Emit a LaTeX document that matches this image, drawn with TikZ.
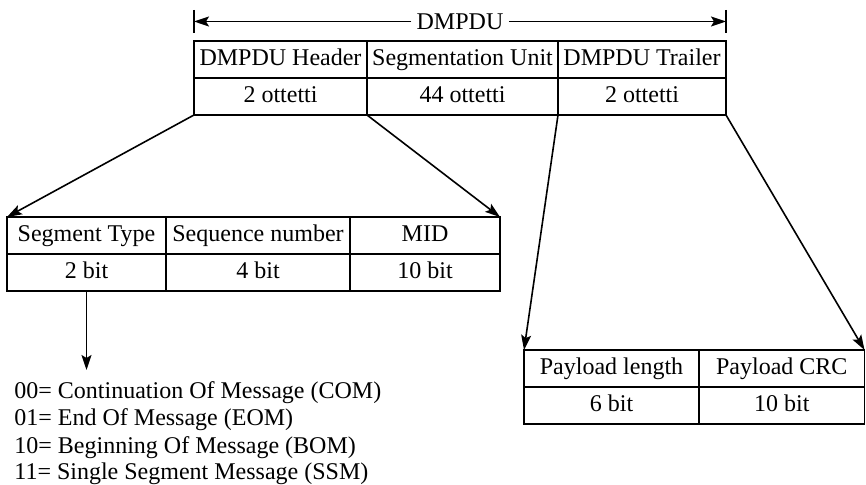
\documentclass[tikz,border=0pt]{standalone}
\usepackage{fontspec}
\setmainfont{Liberation Serif}
\usetikzlibrary{arrows.meta}
\begin{document}
\begin{tikzpicture}[x=0.5pt,y=-0.5pt,
  txt/.style={font=\fontsize{12}{14}\selectfont},
  cell/.style={txt, draw, line width=0.8pt, inner sep=0pt, outer sep=0pt, anchor=north west,
    minimum height=18.5pt, text height=8.5pt, text depth=2.5pt},
  conn/.style={line width=0.8pt, -{Stealth[length=7.5pt,width=5pt,inset=1.5pt]}},
  listline/.style={txt, anchor=base west, inner sep=0pt}]
\useasboundingbox (0,0) rectangle (866,485);

% DMPDU span
\coordinate (L) at (194,21.5);
\coordinate (R) at (726,21.5);
\draw[line width=0.8pt] (194,10) -- (194,33);
\draw[line width=0.8pt] (726,10) -- (726,33);
\node[txt, fill=white, inner xsep=2.5pt, inner ysep=0pt] (lab) at (460,21.5) {DMPDU};
\draw[conn] (lab.west) -- (L);
\draw[conn] (lab.east) -- (R);

% top table
\node[cell, minimum width=86.5pt] (t1) at (194,41) {DMPDU Header};
\node[cell, minimum width=95.5pt] (t2) at (367,41) {Segmentation Unit};
\node[cell, minimum width=84pt]   (t3) at (558,41) {DMPDU Trailer};
\node[cell, minimum width=86.5pt] (b1) at (194,78) {2 ottetti};
\node[cell, minimum width=95.5pt] (b2) at (367,78) {44 ottetti};
\node[cell, minimum width=84pt]   (b3) at (558,78) {2 ottetti};

% segment table
\node[cell, minimum width=79.5pt] (s1) at (7,217) {Segment Type};
\node[cell, minimum width=92pt]   (s2) at (166,217) {Sequence number};
\node[cell, minimum width=75pt]   (s3) at (350,217) {MID};
\node[cell, minimum width=79.5pt] (v1) at (7,254) {2 bit};
\node[cell, minimum width=92pt]   (v2) at (166,254) {4 bit};
\node[cell, minimum width=75pt]   (v3) at (350,254) {10 bit};

% payload table
\node[cell, minimum width=87.5pt]  (p1) at (524,350) {Payload length};
\node[cell, minimum width=82.75pt] (p2) at (699,350) {Payload CRC};
\node[cell, minimum width=87.5pt]  (q1) at (524,387) {6 bit};
\node[cell, minimum width=82.75pt] (q2) at (699,387) {10 bit};

% connectors
\draw[conn] (b1.south west) -- (s1.north west);
\draw[conn] (b1.south east) -- (s3.north east);
\draw[conn] (b3.south west) -- (p1.north west);
\draw[conn] (b3.south east) -- (p2.north east);

\coordinate (lt) at (86.5,370);
\draw[conn] (v1.south) -- (lt);

% list
\node[listline] (l1) at (14,399) {00= Continuation Of Message (COM)};
\node[listline] (l2) at (14,426) {01= End Of Message (EOM)};
\node[listline] (l3) at (14,453) {10= Beginning Of Message (BOM)};
\node[listline] (l4) at (14,480) {11= Single Segment Message (SSM)};
\end{tikzpicture}
\end{document}
